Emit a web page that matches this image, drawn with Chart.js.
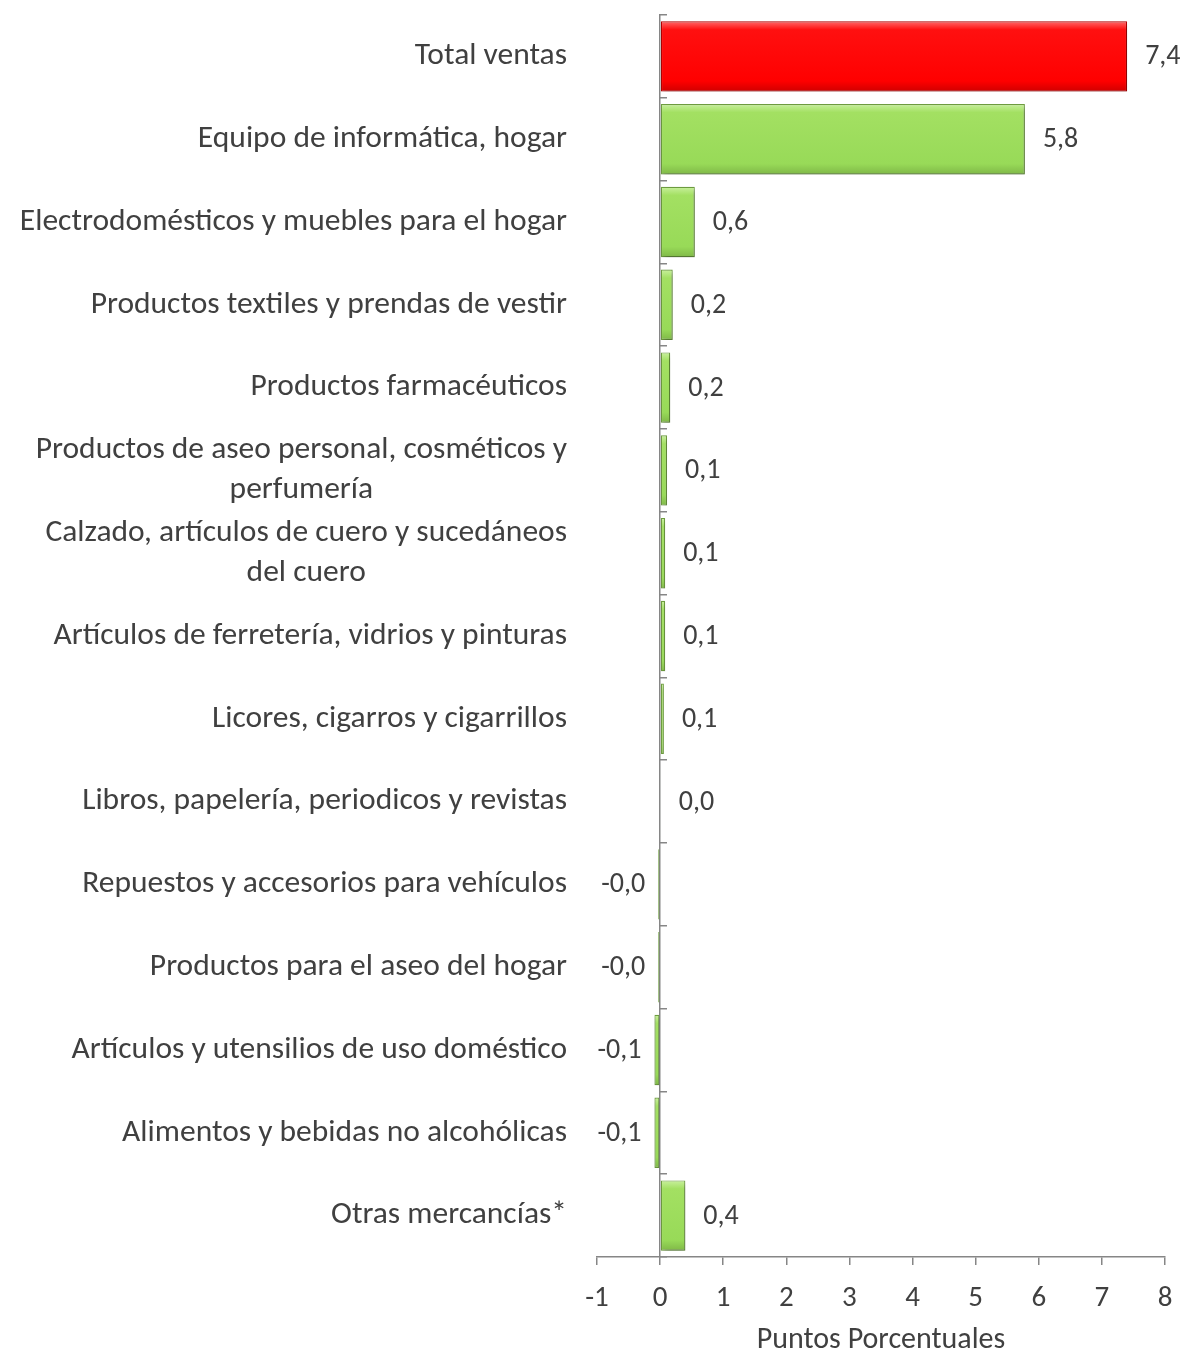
<!DOCTYPE html>
<html><head><meta charset="utf-8">
<script src="https://cdn.jsdelivr.net/npm/chart.js@4.4.1/dist/chart.umd.min.js"></script>
<style>html,body{margin:0;padding:0;background:#fff}#wrap{width:1181px;height:1350px;position:relative}</style>
</head><body><div id="wrap"><canvas id="c"></canvas></div>
<script>
// ---- data ----
const categories = [
  ['Total ventas'],
  ['Equipo de informática, hogar'],
  ['Electrodomésticos y muebles para el hogar'],
  ['Productos textiles y prendas de vestir'],
  ['Productos farmacéuticos'],
  ['Productos de aseo personal, cosméticos y', 'perfumería'],
  ['Calzado, artículos de cuero y sucedáneos', 'del cuero'],
  ['Artículos de ferretería, vidrios y pinturas'],
  ['Licores, cigarros y cigarrillos'],
  ['Libros, papelería, periodicos y revistas'],
  ['Repuestos y accesorios para vehículos'],
  ['Productos para el aseo del hogar'],
  ['Artículos y utensilios de uso doméstico'],
  ['Alimentos y bebidas no alcohólicas'],
  ['Otras mercancías*']
];
const values = [7.40, 5.78, 0.55, 0.20, 0.16, 0.11, 0.08, 0.08, 0.06, 0.01, -0.03, -0.03, -0.09, -0.09, 0.40];
const xTickValues = [-1, 0, 1, 2, 3, 4, 5, 6, 7, 8];
const xAxisTitle = 'Puntos Porcentuales';

// ---- styling ----
const FONT = 'Carlito, Calibri, "Liberation Sans", sans-serif';
const TEXT = '#404040';
const AXIS = '#868686';

function fmt(v){ return v.toFixed(1).replace('.', ','); }

function barFill(ctx){
  const chart = ctx.chart, i = ctx.dataIndex;
  const ys = chart.scales.y;
  const isTotal = i === 0;
  const base = isTotal ? '#FF0000' : '#9BDC5B';
  if (!ys || !isFinite(ys.getPixelForValue(0))) return base;
  const band = Math.abs(ys.getPixelForValue(1) - ys.getPixelForValue(0));
  const yc = ys.getPixelForValue(i);
  const h = band * 0.85;
  const g = chart.ctx.createLinearGradient(0, yc - h/2, 0, yc + h/2);
  if (isTotal) {
    g.addColorStop(0, '#FF6A6A'); g.addColorStop(0.12, '#FF1010'); g.addColorStop(0.85, '#FF0000'); g.addColorStop(1, '#D00000');
  } else {
    g.addColorStop(0, '#C9F09E'); g.addColorStop(0.12, '#A3E062'); g.addColorStop(0.85, '#98DA58'); g.addColorStop(1, '#7FB847');
  }
  return g;
}

const shadowPlugin = {
  id: 'barShadow',
  beforeDatasetsDraw(chart){ const c = chart.ctx; c.save(); c.shadowColor = 'rgba(0,0,0,0.30)'; c.shadowBlur = 5; c.shadowOffsetX = 2; c.shadowOffsetY = 3; },
  afterDatasetsDraw(chart){ chart.ctx.restore(); }
};

const valueLabels = {
  id: 'valueLabels',
  afterDatasetsDraw(chart){
    const c = chart.ctx;
    const meta = chart.getDatasetMeta(0);
    c.save();
    c.font = '28px ' + FONT;
    c.fillStyle = TEXT;
    c.textBaseline = 'middle';
    meta.data.forEach((el, i) => {
      const v = chart.data.datasets[0].data[i];
      const t = fmt(v);
      if (v >= 0) { c.textAlign = 'left'; c.fillText(t, Math.max(el.x, el.base) + 18, el.y + 1); }
      else { c.textAlign = 'right'; c.fillText(t, Math.min(el.x, el.base) - 13, el.y + 1); }
    });
    c.restore();
  }
};

const categoryLabels = {
  id: 'categoryLabels',
  afterDraw(chart){
    const c = chart.ctx, ys = chart.scales.y;
    const right = chart.chartArea.left - 30;
    const lh = 40;
    c.save();
    c.font = '31.5px ' + FONT;
    c.fillStyle = TEXT;
    c.textBaseline = 'middle';
    c.textAlign = 'center';
    chart.data.labels.forEach((lab, i) => {
      const lines = Array.isArray(lab) ? lab : [lab];
      const w = Math.max(...lines.map(l => c.measureText(l).width));
      const cx = right - w / 2;
      const yc = ys.getPixelForValue(i);
      lines.forEach((l, k) => c.fillText(l, cx, yc + (k - (lines.length - 1) / 2) * lh));
    });
    c.restore();
  }
};

new Chart(document.getElementById('c'), {
  type: 'bar',
  data: {
    labels: categories,
    datasets: [{
      label: 'Contribución',
      data: values,
      backgroundColor: barFill,
      borderColor: (ctx) => ctx.dataIndex === 0 ? '#B80000' : '#6F9E40',
      borderWidth: 1.2,
      borderSkipped: false,
      barPercentage: 0.85,
      categoryPercentage: 1.0
    }]
  },
  options: {
    indexAxis: 'y',
    responsive: true,
    maintainAspectRatio: false,
    animation: false,
    layout: { padding: { top: 15, right: 16, left: 0, bottom: 0 } },
    plugins: { legend: { display: false }, tooltip: { enabled: false } },
    scales: {
      x: {
        type: 'linear',
        min: xTickValues[0],
        max: xTickValues[xTickValues.length - 1],
        afterBuildTicks(s){ s.ticks = xTickValues.map(v => ({ value: v })); },
        grid: { drawOnChartArea: false, drawTicks: true, tickLength: 8, color: AXIS, lineWidth: 1.5 },
        border: { display: true, color: AXIS, width: 1.5 },
        ticks: { font: { family: FONT, size: 29, lineHeight: 1.2 }, color: TEXT, padding: 16, maxRotation: 0 },
        title: { display: true, text: xAxisTitle, font: { family: FONT, size: 30, lineHeight: 0.62 }, color: TEXT, padding: 0 },
        afterFit(s){ s.height = 93; s.paddingRight = 0; s.paddingLeft = 0; }
      },
      y: {
        type: 'category',
        offset: true,
        grid: { display: false },
        border: { display: false },
        ticks: { display: false },
        afterFit(s){ s.width = 597; }
      },
      yz: {
        type: 'category',
        axis: 'y',
        position: { x: 0 },
        offset: true,
        grid: { offset: true, drawOnChartArea: false, drawTicks: true, tickLength: -8, color: AXIS, lineWidth: 1.5 },
        border: { display: true, color: AXIS, width: 1.5 },
        ticks: { display: false }
      }
    }
  },
  plugins: [shadowPlugin, valueLabels, categoryLabels]
});
</script></body></html>
